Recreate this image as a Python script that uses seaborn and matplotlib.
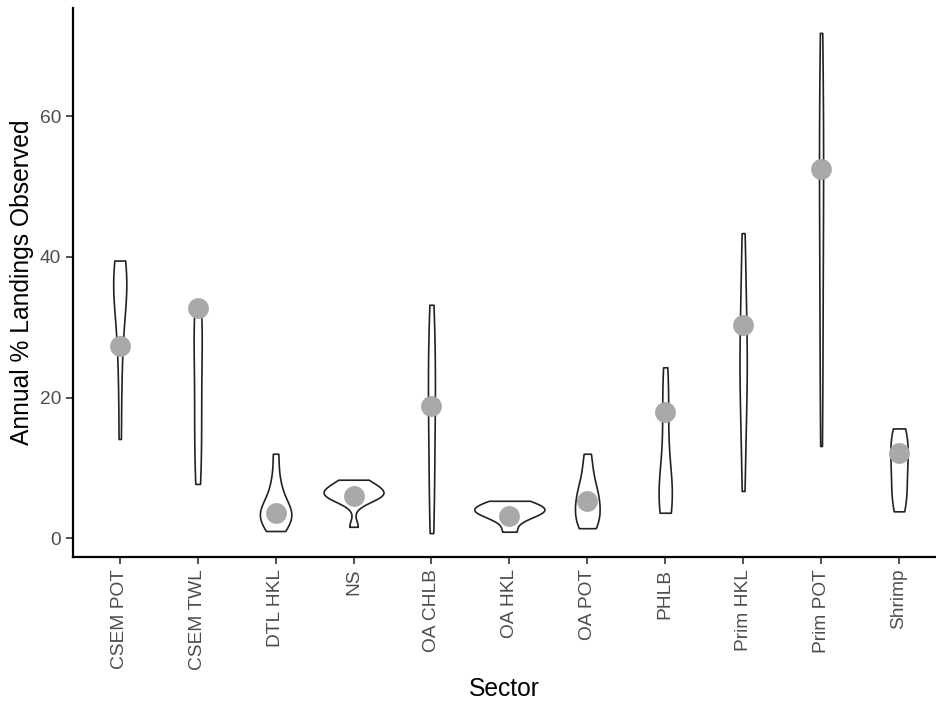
import numpy as np
import pandas as pd
import matplotlib
matplotlib.use("Agg")
import matplotlib.pyplot as plt
import seaborn as sns

# Sectors on the x axis
sectors = ["CSEM POT", "CSEM TWL", "DTL HKL", "NS", "OA CHLB", "OA HKL",
           "OA POT", "PHLB", "Prim HKL", "Prim POT", "Shrimp"]

# Annual % of landings observed, one list per sector (estimated from the figure)
csem_pot = [14.1, 22.0, 27.3, 31.0, 33.5, 35.0, 36.2, 37.0, 37.9, 38.8, 39.5]
csem_twl = [7.7, 10.0, 13.0, 16.0, 19.0, 22.0, 25.0, 28.0, 30.5, 32.0, 32.8]
dtl_hkl = [1.0, 1.8, 2.5, 3.0, 3.4, 3.8, 4.2, 5.0, 6.5, 8.5, 12.0]
ns = [1.6, 5.2, 5.8, 6.0, 6.2, 6.4, 6.6, 6.9, 7.4, 8.0, 8.3]
oa_chlb = [0.7, 4.0, 8.0, 12.0, 15.5, 18.8, 21.0, 24.0, 27.0, 30.0, 33.2]
oa_hkl = [0.9, 2.4, 3.1, 3.5, 3.8, 4.0, 4.2, 4.6, 5.0, 5.3]
oa_pot = [1.4, 2.2, 2.8, 3.6, 4.8, 5.6, 6.4, 7.5, 9.5, 12.0]
phlb = [3.6, 4.3, 5.0, 5.8, 6.8, 8.0, 10.0, 14.0, 18.0, 21.0, 24.3]
prim_hkl = [6.7, 12.0, 17.0, 20.5, 23.0, 25.0, 27.0, 30.3, 34.0, 38.5, 43.4]
prim_pot = [13.1, 20.0, 27.0, 33.0, 39.0, 45.0, 50.0, 52.5, 57.0, 62.0, 67.0, 71.9]
shrimp = [3.8, 5.0, 6.5, 8.0, 9.5, 11.0, 12.1, 13.5, 14.8, 15.6]

# Grey summary points
point_values = [27.3, 32.8, 3.6, 6.0, 18.8, 3.2, 5.2, 18.0, 30.3, 52.5, 12.1]

series = [csem_pot, csem_twl, dtl_hkl, ns, oa_chlb, oa_hkl,
          oa_pot, phlb, prim_hkl, prim_pot, shrimp]
df = pd.DataFrame({
    "Sector": np.repeat(sectors, [len(s) for s in series]),
    "pct": np.concatenate(series),
})
pts = pd.DataFrame({"Sector": sectors, "pct": point_values})

sns.set_theme(style="ticks")
plt.rcParams["font.family"] = ["Liberation Sans", "DejaVu Sans"]

fig = plt.figure(figsize=(9.36, 7.04), dpi=100)
ax = fig.add_axes([73 / 936, 147 / 704, 863 / 936, 549 / 704])

sns.violinplot(data=df, x="Sector", y="pct", order=sectors, ax=ax,
               cut=0, density_norm="area", width=0.9, inner=None,
               bw_method="silverman", bw_adjust=0.85,
               color="white", linecolor="#222222", linewidth=1.2, saturation=1)
sns.stripplot(data=pts, x="Sector", y="pct", order=sectors, ax=ax,
              jitter=False, color="#A9A9A9", size=15, linewidth=0, zorder=5)

ax.set_xlim(-0.6, 10.475)
ax.set_ylim(-2.7, 75.44)
ax.set_yticks([0, 20, 40, 60])
ax.set_xlabel("Sector", fontsize=17.7, color="black", labelpad=5)
ax.set_ylabel("Annual % Landings Observed", fontsize=17.7, color="black", labelpad=4)
ax.tick_params(axis="both", colors="#333333", labelcolor="#4D4D4D",
               labelsize=13.8, length=5, width=1.2)
plt.setp(ax.get_xticklabels(), rotation=90)
for side in ["left", "bottom"]:
    ax.spines[side].set_linewidth(1.6)
    ax.spines[side].set_color("black")
sns.despine(ax=ax)

fig.savefig("out.png", dpi=100)
